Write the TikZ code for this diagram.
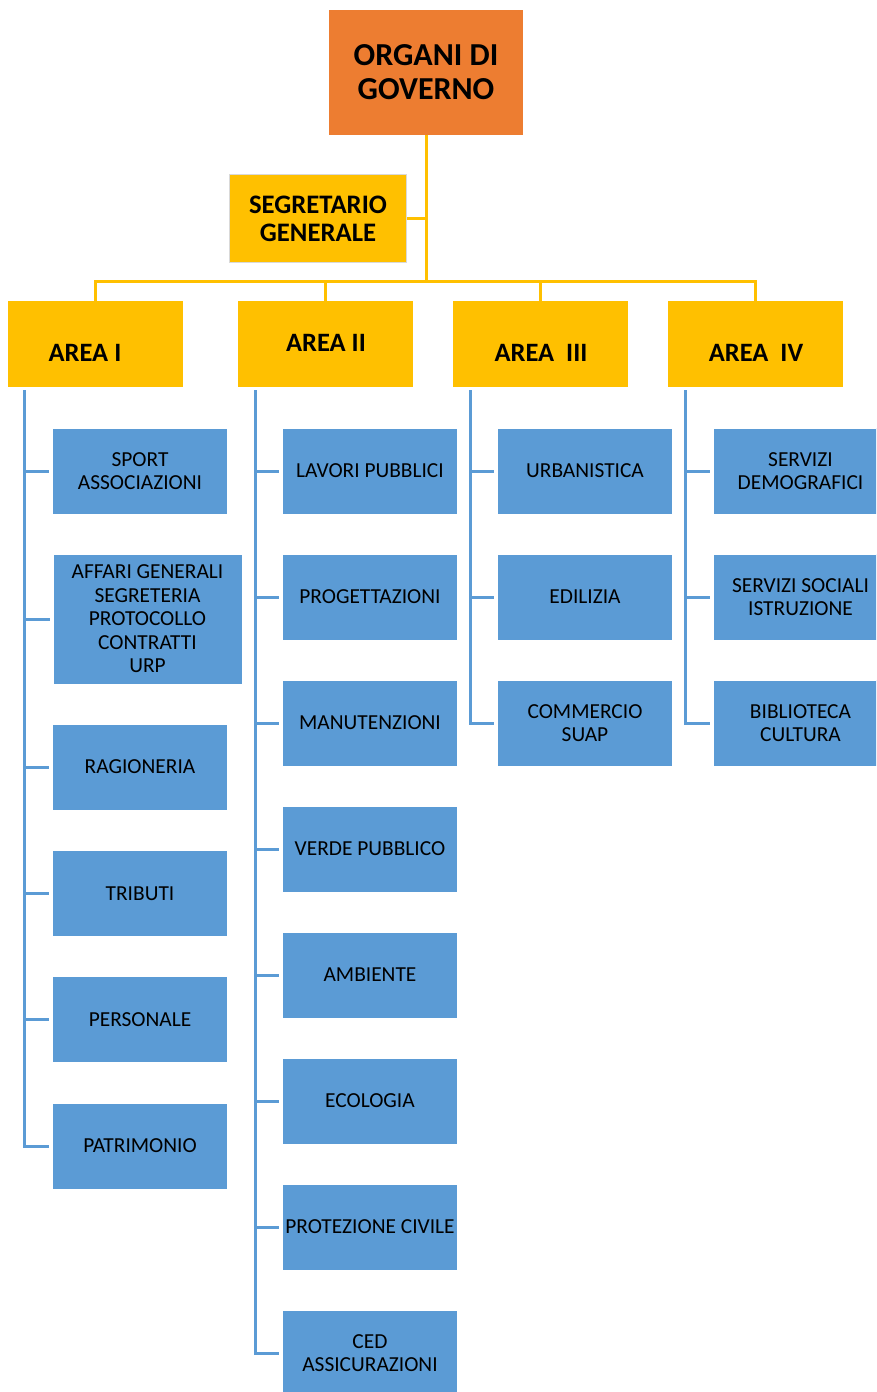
\documentclass[tikz,border=0pt]{standalone}
\usepackage{fontspec}
\setmainfont{Carlito}
\definecolor{orangeb}{HTML}{ED7D31}
\definecolor{goldb}{HTML}{FFC000}
\definecolor{blueb}{HTML}{5B9BD5}
\definecolor{greyb}{HTML}{D9D9D9}
\begin{document}
\begin{tikzpicture}[x=1pt,y=-1pt,
  topbox/.style={fill=orangeb,draw=none,minimum width=194pt,minimum height=125pt,align=center,font=\fontsize{32}{34}\selectfont\bfseries,inner sep=0pt},
  segbox/.style={fill=goldb,draw=greyb,line width=1.5pt,minimum width=177pt,minimum height=88pt,align=center,font=\fontsize{26.7}{28}\selectfont\bfseries,inner sep=0pt},
  areabox/.style={fill=goldb,draw=none,minimum width=175pt,minimum height=86pt,inner sep=0pt},
  arealabel/.style={font=\fontsize{26.5}{28}\selectfont\bfseries,inner sep=0pt},
  unitbox/.style={fill=blueb,draw=white,line width=0.6pt,minimum width=175pt,minimum height=86pt,align=center,font=\fontsize{21.4}{23.5}\selectfont,inner sep=0pt},
  yline/.style={draw=goldb,line width=3pt},
  bline/.style={draw=blueb,line width=3pt}]
\useasboundingbox (0,0) rectangle (876,1392);
\clip (0,0) rectangle (876,1392);
% top
\node[topbox] (top) at (426,72.5) {ORGANI DI\\GOVERNO};
\node[segbox] (seg) at (318,218.5) {SEGRETARIO\\GENERALE};
% areas
\node[areabox] (a1) at (95.5,344) {};
\node[areabox] (a2) at (325.5,344) {};
\node[areabox] (a3) at (540.5,344) {};
\node[areabox] (a4) at (755.5,344) {};
\node[arealabel] (l1) at (85,353) {AREA I};
\node[arealabel] (l2) at (326,343) {AREA II};
\node[arealabel] (l3) at (541,353) {AREA\ \ III};
\node[arealabel] (l4) at (756,353) {AREA\ \ IV};
% yellow connectors
\coordinate (bus) at (426,281);
\draw[yline] (top.south) -- (bus);
\draw[yline] (seg.east) -- (seg.east -| top.south);
\draw[yline] (a1.north) -- (a1.north |- bus) -- (a4.north |- bus) -- (a4.north);
\draw[yline] (a2.north) -- (a2.north |- bus);
\draw[yline] (a3.north) -- (a3.north |- bus);
% Area I units
\node[unitbox] (u11) at (140,471) {SPORT\\ASSOCIAZIONI};
\node[unitbox,minimum width=189pt,minimum height=130pt] (u12) at (147.5,619) {AFFARI GENERALI\\SEGRETERIA\\PROTOCOLLO\\CONTRATTI\\URP};
\node[unitbox] (u13) at (140,767) {RAGIONERIA};
\node[unitbox] (u14) at (140,893.5) {TRIBUTI};
\node[unitbox] (u15) at (140,1019.5) {PERSONALE};
\node[unitbox] (u16) at (140,1146) {PATRIMONIO};
% Area II units
\node[unitbox] (u21) at (370,471) {LAVORI PUBBLICI};
\node[unitbox] (u22) at (370,597) {PROGETTAZIONI};
\node[unitbox] (u23) at (370,723) {MANUTENZIONI};
\node[unitbox] (u24) at (370,849) {VERDE PUBBLICO};
\node[unitbox] (u25) at (370,975) {AMBIENTE};
\node[unitbox] (u26) at (370,1101) {ECOLOGIA};
\node[unitbox] (u27) at (370,1227) {PROTEZIONE CIVILE};
\node[unitbox] (u28) at (370,1353) {CED\\ASSICURAZIONI};
% Area III units
\node[unitbox] (u31) at (585,471) {URBANISTICA};
\node[unitbox] (u32) at (585,597) {EDILIZIA};
\node[unitbox] (u33) at (585,723) {COMMERCIO\\SUAP};
% Area IV units
\node[unitbox] (u41) at (800.5,471) {SERVIZI\\DEMOGRAFICI};
\node[unitbox] (u42) at (800.5,597) {SERVIZI SOCIALI\\ISTRUZIONE};
\node[unitbox] (u43) at (800.5,723) {BIBLIOTECA\\CULTURA};
% blue connectors
\coordinate (s1) at (24,390);
\coordinate (s2) at (255,390);
\coordinate (s3) at (470,390);
\coordinate (s4) at (685,390);
\draw[bline] (s1) -- (s1 |- u16.west) -- ([xshift=-3pt]u16.west);
\foreach \u in {u11,u12,u13,u14,u15}{\draw[bline] (s1 |- \u.west) -- ([xshift=-3pt]\u.west);}
\draw[bline] (s2) -- (s2 |- u28.west) -- ([xshift=-3pt]u28.west);
\foreach \u in {u21,u22,u23,u24,u25,u26,u27}{\draw[bline] (s2 |- \u.west) -- ([xshift=-3pt]\u.west);}
\draw[bline] (s3) -- (s3 |- u33.west) -- ([xshift=-3pt]u33.west);
\foreach \u in {u31,u32}{\draw[bline] (s3 |- \u.west) -- ([xshift=-3pt]\u.west);}
\draw[bline] (s4) -- (s4 |- u43.west) -- ([xshift=-3pt]u43.west);
\foreach \u in {u41,u42}{\draw[bline] (s4 |- \u.west) -- ([xshift=-3pt]\u.west);}
\end{tikzpicture}
\end{document}
